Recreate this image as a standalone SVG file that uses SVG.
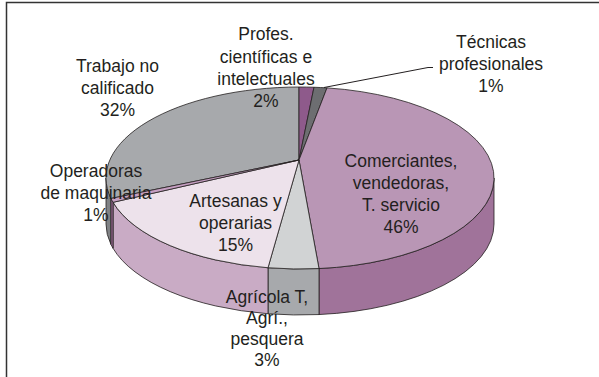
<svg xmlns="http://www.w3.org/2000/svg" width="599" height="377" viewBox="0 0 599 377">
<style>
.e{stroke:#231f20;stroke-width:0.8;stroke-linejoin:round}
.t{font-family:"Liberation Sans",Arial,sans-serif;font-size:17.5px;fill:#231f20;text-anchor:middle}
</style>
<rect width="599" height="377" fill="#fff"/>
<path d="M6.5,377 V2.5 H599" fill="none" stroke="#333" stroke-width="1.5"/>
<g id="trabajo">
<path class="e" fill="#808285" d="M110.97,198.47 A194,91 0 0 1 106,178 L106,224 A194,91 0 0 0 110.97,244.47 Z"/>
<path class="e" fill="#a7a9ac" d="M299,160 L110.97,198.47 A194,91 0 0 1 299,87 Z"/>
</g>
<g id="profes">
<path class="e" fill="#8e5a8b" d="M299,160 L299,87 A194,91 0 0 1 314,87.24 Z"/>
</g>
<g id="tecnicas">
<path class="e" fill="#6d6e71" d="M299,160 L314,87.24 A194,91 0 0 1 327,87.88 Z"/>
</g>
<g id="comerciantes">
<path class="e" fill="#a0739a" d="M494,178 A194,91 0 0 1 319,268.56 L319,314.56 A194,91 0 0 0 494,224 Z"/>
<path class="e" fill="#b996b5" d="M299,160 L327,87.88 A194,91 0 0 1 319,268.56 Z"/>
</g>
<g id="agricola">
<path class="e" fill="#a7a9ac" d="M319,268.56 A194,91 0 0 1 268,267.75 L268,313.75 A194,91 0 0 0 319,314.56 Z"/>
<path class="e" fill="#d1d3d4" d="M299,160 L319,268.56 A194,91 0 0 1 268,267.75 Z"/>
</g>
<g id="artesanas">
<path class="e" fill="#c9abc5" d="M268,267.75 A194,91 0 0 1 113.06,202.32 L113.06,248.32 A194,91 0 0 0 268,313.75 Z"/>
<path class="e" fill="#ede2eb" d="M299,160 L268,267.75 A194,91 0 0 1 113.06,202.32 Z"/>
</g>
<g id="operadoras">
<path class="e" fill="#9b6b95" d="M113.06,202.32 A194,91 0 0 1 110.97,198.47 L110.97,244.47 A194,91 0 0 0 113.06,248.32 Z"/>
<path class="e" fill="#c7a0c3" d="M299,160 L113.06,202.32 A194,91 0 0 1 110.97,198.47 Z"/>
</g>
<g id="connectors">
<path d="M324,87.5 L428,67.5 L433,67.5" fill="none" stroke="#231f20" stroke-width="1"/>
</g>
<g id="labels">
<text class="t"><tspan x="117.5" y="71.5">Trabajo no</tspan><tspan x="117.5" y="93.5">calificado</tspan><tspan x="117.5" y="115.5">32%</tspan></text>
<text class="t"><tspan x="266" y="40">Profes.</tspan><tspan x="266" y="62.5">científicas e</tspan><tspan x="266" y="84.5">intelectuales</tspan><tspan x="266" y="106.5">2%</tspan></text>
<text class="t"><tspan x="491" y="47.5">Técnicas</tspan><tspan x="491" y="69.5">profesionales</tspan><tspan x="491" y="91.5">1%</tspan></text>
<text class="t"><tspan x="401" y="167">Comerciantes,</tspan><tspan x="401" y="189">vendedoras,</tspan><tspan x="401" y="211">T. servicio</tspan><tspan x="401" y="233">46%</tspan></text>
<text class="t"><tspan x="235.5" y="206.5">Artesanas y</tspan><tspan x="235.5" y="228.5">operarias</tspan><tspan x="235.5" y="250.5">15%</tspan></text>
<text class="t"><tspan x="96" y="176.5">Operadoras</tspan><tspan x="96" y="198.5">de maquinaria</tspan><tspan x="96" y="220.5">1%</tspan></text>
<text class="t"><tspan x="267" y="303">Agrícola T,</tspan><tspan x="267" y="324">Agrí.,</tspan><tspan x="267" y="345">pesquera</tspan><tspan x="267" y="366">3%</tspan></text>
</g>
</svg>
